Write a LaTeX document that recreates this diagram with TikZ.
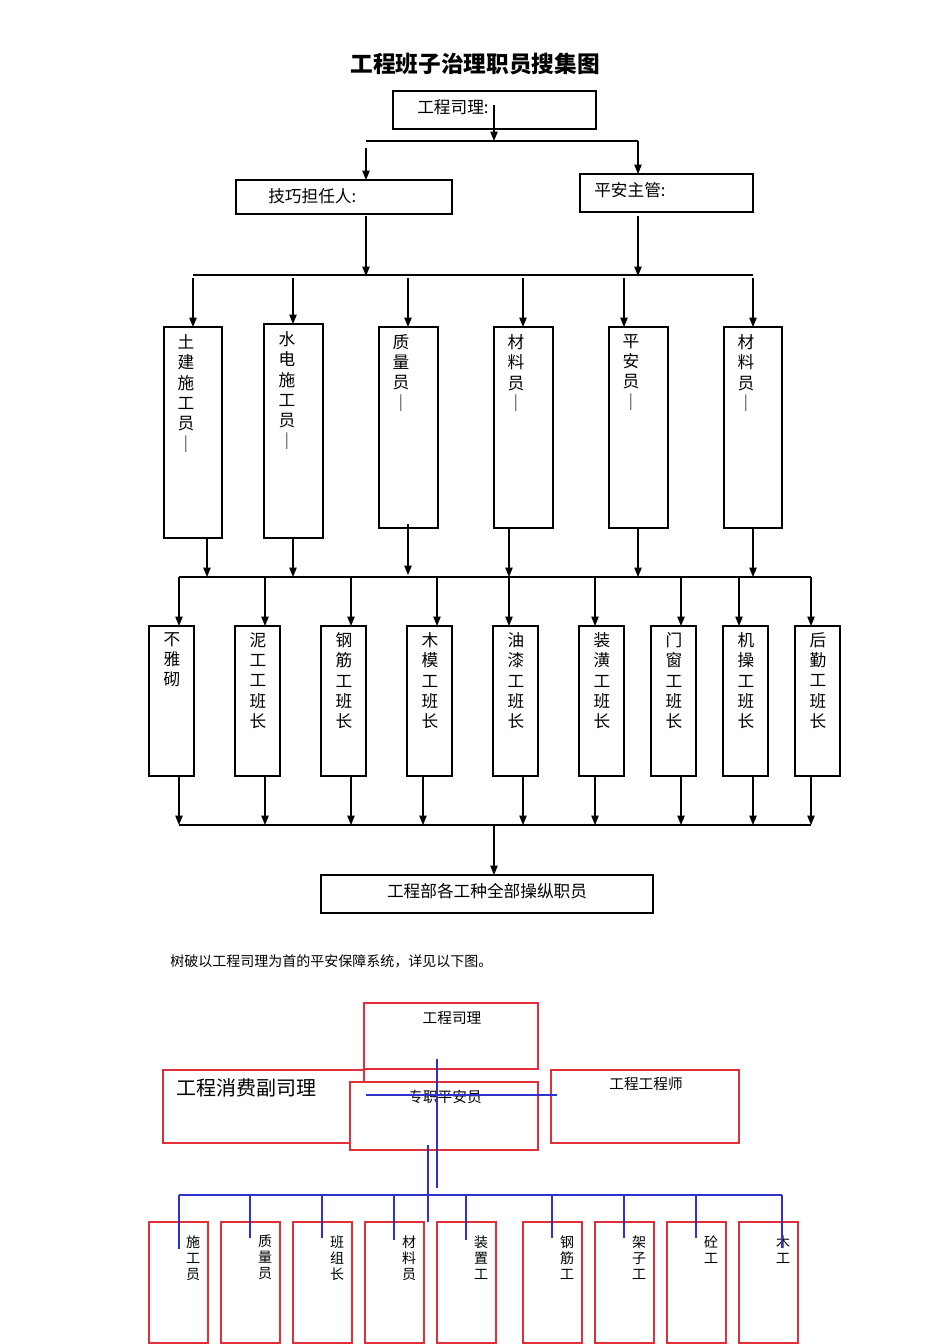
\documentclass[tikz,border=0pt]{standalone}
\usepackage{fontspec}
\newfontfamily\cjk{Noto Sans CJK SC}
\usetikzlibrary{arrows.meta}
\definecolor{rd}{HTML}{E0303A}
\definecolor{bl}{HTML}{3030CC}
\begin{document}
\begin{tikzpicture}[x=0.75pt,y=-0.75pt,
 bx/.style={draw,line width=0.8pt},
 ar/.style={-{Triangle[length=7pt,width=5.5pt]},line width=0.8pt},
 ln/.style={line width=0.8pt},
 vt/.style={font=\cjk\fontsize{12.5}{15.3}\selectfont,align=center,anchor=north,inner sep=0pt},
 vs/.style={font=\cjk\fontsize{10.5}{12}\selectfont,align=center,anchor=north,inner sep=0pt},
 tx/.style={font=\cjk\fontsize{12.5}{15}\selectfont,inner sep=0pt},
 rb/.style={draw=rd,line width=0.9pt,fill=white},
 bline/.style={draw=bl,line width=0.8pt}]
\useasboundingbox (0,0) rectangle (950,1344);
\node[font=\cjk\bfseries\fontsize{17}{19}\selectfont] (title) at (475,64) {工程班子治理职员搜集图};
% top
\draw[bx] (393,91) rectangle (596,129);
\node[tx,anchor=west] (a) at (417,107) {工程司理:};
\coordinate (a1) at (494,105); \coordinate (a2) at (494,141);
\draw[ar] (a1) -- (a2);
\draw[ln] (366,141) -- (638,141);
\draw[bx] (236,180) rectangle (452,214);
\node[tx,anchor=west] (b) at (268,196) {技巧担任人:};
\draw[bx] (580,174) rectangle (753,212);
\node[tx,anchor=west] (c) at (594,190) {平安主管:};
\draw[ar] (366,148) -- (366,180);
\draw[ar] (638,141) -- (638,174);
\draw[ar] (366,216) -- (366,276);
\draw[ar] (638,216) -- (638,276);
\draw[ln] (193,275) -- (753,275);
% row1
\foreach \ax/\t in {193/327,293/324,408/327,523/327,624/327,753/327}{
 \draw[ar] (\ax,278) -- (\ax,\t);
}
\draw[bx] (164,327) rectangle (222,538); \node[vt] (r1) at (186,334) {土\\建\\施\\工\\员\\｜};
\draw[bx] (264,324) rectangle (323,538); \node[vt] (r2) at (287,331) {水\\电\\施\\工\\员\\｜};
\draw[bx] (379,327) rectangle (438,528); \node[vt] (r3) at (401,334) {质\\量\\员\\｜};
\draw[bx] (494,327) rectangle (553,528); \node[vt] (r4) at (516,334) {材\\料\\员\\｜};
\draw[bx] (609,327) rectangle (668,528); \node[vt] (r5) at (631,334) {平\\安\\员\\｜};
\draw[bx] (724,327) rectangle (782,528); \node[vt] (r6) at (746,334) {材\\料\\员\\｜};
\draw[ar] (207,538) -- (207,577);
\draw[ar] (293,538) -- (293,577);
\draw[ar] (408,524) -- (408,575);
\draw[ar] (509,528) -- (509,577);
\draw[ar] (638,528) -- (638,577);
\draw[ar] (753,528) -- (753,577);
\draw[ln] (179,577) -- (811,577);
% row2
\foreach \x in {179,265,351,437,509,595,681,739,811}{\draw[ar] (\x,577) -- (\x,626);}
\foreach \l/\txt in {149/不\\雅\\砌,235/泥\\工\\工\\班\\长,321/钢\\筋\\工\\班\\长,407/木\\模\\工\\班\\长,493/油\\漆\\工\\班\\长,579/装\\潢\\工\\班\\长,651/门\\窗\\工\\班\\长,723/机\\操\\工\\班\\长,795/后\\勤\\工\\班\\长}{
 \draw[bx] (\l,626) rectangle (\l+45,776);
 \node[vt] at (\l+23,632) {\txt};
}
\foreach \x in {179,265,351,423,523,595,681,753,811}{\draw[ar] (\x,776) -- (\x,825);}
\draw[ln] (179,825) -- (811,825);
\draw[ar] (494,825) -- (494,875);
\draw[bx] (321,875) rectangle (653,913);
\node[tx] (d) at (487,891) {工程部各工种全部操纵职员};
\node[font=\cjk\fontsize{10.5}{12}\selectfont,anchor=west,inner sep=0pt] (note) at (170,961) {树破以工程司理为首的平安保障系统，详见以下图。};
% bottom
\draw[rb] (364,1003) rectangle (538,1069);
\node[font=\cjk\fontsize{11}{13}\selectfont] (e) at (452,1018) {工程司理};
\draw[rb] (163,1070) rectangle (364,1143);
\node[font=\cjk\fontsize{15}{17}\selectfont,anchor=west,inner sep=0pt] (f) at (176,1088) {工程消费副司理};
\draw[rb] (350,1082) rectangle (538,1150);
\node[font=\cjk\fontsize{11}{13}\selectfont] (g) at (445,1097) {专职平安员};
\draw[rb] (551,1070) rectangle (739,1143);
\node[font=\cjk\fontsize{11}{13}\selectfont] (h) at (646,1084) {工程工程师};
\foreach \l/\txt in {149/施\\工\\员,221/质\\量\\员,293/班\\组\\长,365/材\\料\\员,437/装\\置\\工,523/钢\\筋\\工,595/架\\子\\工,667/砼\\工,739/木\\工}{
 \draw[rb,fill=none] (\l,1222) -- (\l,1343) -- (\l+59,1343) -- (\l+59,1222) -- cycle;
 \node[vs] at (\l+44,1235) {\txt};
}
\draw[bline] (437,1059) -- (437,1188);
\draw[bline] (366,1095) -- (557,1095);
\draw[bline] (428,1145) -- (428,1222);
\draw[bline] (179,1195) -- (782,1195);
\foreach \x/\y in {179/1249,250/1238,322/1238,394/1240,466/1240,552/1238,624/1238,696/1238,782/1248}{\draw[bline] (\x,1195) -- (\x,\y);}
\end{tikzpicture}
\end{document}
